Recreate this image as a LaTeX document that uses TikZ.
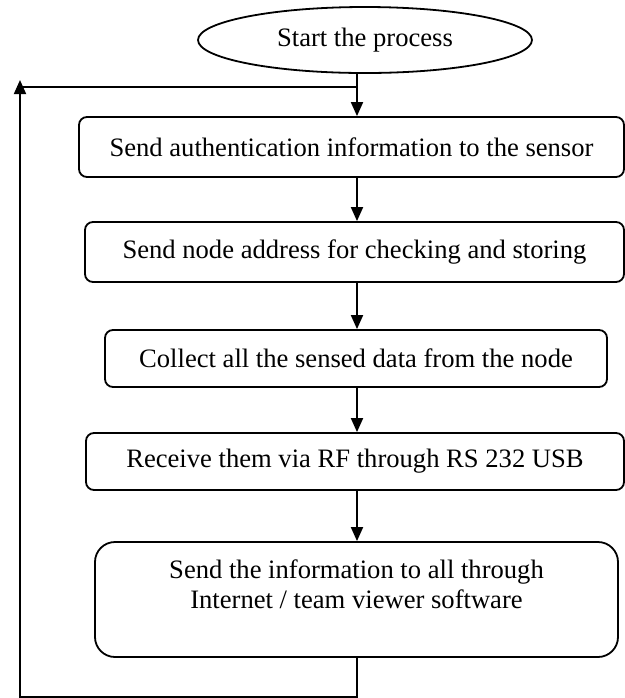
\documentclass[tikz,border=0pt]{standalone}
\usepackage{fontspec}
\setmainfont{Liberation Serif}
\usetikzlibrary{shapes.geometric,arrows.meta}
\tikzset{
    stepbox/.style={draw, rounded corners=4pt, inner sep=0pt, minimum height=30pt, align=center},
    startnode/.style={draw, ellipse, inner sep=0pt, minimum width=167pt, minimum height=33pt},
    arr/.style={-{Triangle[length=7pt,width=6pt]}},
  }
\begin{document}
\begin{tikzpicture}[x=0.5pt, y=-0.5pt, line width=0.9pt, font=\fontsize{13.3}{15}\selectfont]
				  \useasboundingbox (0,0) rectangle (625,698);
				  %nodes
				  \node[startnode] (start) at (365,40) {Start the process};
				  \node[stepbox, minimum width=272.5pt] (b1) at (351.5,147) {Send authentication information to the sensor};
				  \node[stepbox, minimum width=269.5pt] (b2) at (354.5,252) {Send node address for checking and storing};
				  \node[stepbox, minimum width=251pt, minimum height=28.5pt] (b3) at (356,358.5) {Collect all the sensed data from the node};
				  \node[stepbox, minimum width=269pt, minimum height=28.5pt] (b4) at (355,461.5) {Receive them via RF through RS 232 USB};
				  \node[stepbox, rounded corners=10pt, minimum width=261.5pt, minimum height=57.5pt] (b5) at (356.5,599.5) {Send the information to all through\\Internet / team viewer software\\\mbox{}};
				  
				  %connectors
				  \coordinate(spine) at (357,0);
				  \coordinate(join) at (357,87);
				  \coordinate(corner) at (20,697);
				  \coordinate(back) at (20,80);
				  \draw (start.south -| spine) -- (join);
				  \draw[arr] (join) -- (b1.north -| spine);
				  \foreach \a/\b in {b1/b2,b2/b3,b3/b4,b4/b5}
				    \draw[arr] (\a.south -| spine) -- (\b.north -| spine);
				  
				  %loop back
				  \draw[arr] (b5.south -| spine) |- (corner) -- (back);
				  \draw (join) -- (join -| back);
				  \end{tikzpicture}
\end{document}
